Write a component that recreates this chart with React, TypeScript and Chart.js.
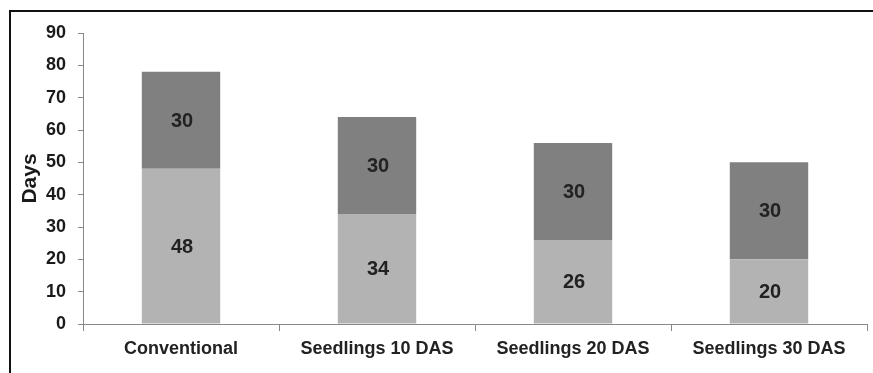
import React, { useEffect, useRef } from "react";
import { Chart, registerables } from "chart.js";

Chart.register(...registerables);

const categories = ["Conventional", "Seedlings 10 DAS", "Seedlings 20 DAS", "Seedlings 30 DAS"];
const lowerValues = [48, 34, 26, 20];
const upperValues = [30, 30, 30, 30];
const yTickMin = 0;
const yTickMax = 90;
const yTickStep = 10;
const yTitle = "Days";

const W = 873;
const H = 373;

const framePlugin = {
  id: "frame",
  afterDraw(chart: any) {
    const ctx = chart.ctx;
    ctx.save();
    ctx.strokeStyle = "#111111";
    ctx.lineWidth = 2;
    ctx.beginPath();
    ctx.moveTo(10, H);
    ctx.lineTo(10, 11);
    ctx.lineTo(W, 11);
    ctx.stroke();
    ctx.restore();
  },
};

const labelPlugin = {
  id: "segLabels",
  afterDatasetsDraw(chart: any) {
    const ctx = chart.ctx;
    ctx.save();
    ctx.font = "bold 20px 'Liberation Sans', Arial, sans-serif";
    ctx.fillStyle = "#222222";
    ctx.textAlign = "center";
    ctx.textBaseline = "middle";
    chart.data.datasets.forEach((ds: any, di: number) => {
      const meta = chart.getDatasetMeta(di);
      meta.data.forEach((el: any, i: number) => {
        const p = el.getProps(["x", "y", "base"], true);
        ctx.fillText(String(ds.data[i]), p.x + 1, (p.y + p.base) / 2 + 1);
      });
    });
    ctx.restore();
  },
};

export default function App() {
  const ref = useRef<HTMLCanvasElement | null>(null);
  useEffect(() => {
    if (!ref.current) return;
    const chart = new Chart(ref.current, {
      type: "bar",
      data: {
        labels: categories,
        datasets: [
          { data: lowerValues, backgroundColor: "#b3b3b3", borderWidth: 0 },
          { data: upperValues, backgroundColor: "#808080", borderWidth: 0 },
        ],
      },
      options: {
        responsive: false,
        animation: false,
        devicePixelRatio: 1,
        layout: { padding: { left: 0, top: 33, right: 6, bottom: 0 } },
        plugins: { legend: { display: false }, tooltip: { enabled: false } },
        datasets: { bar: { categoryPercentage: 1, barPercentage: 0.4 } },
        scales: {
          x: {
            stacked: true,
            grid: { display: true, drawOnChartArea: false, drawTicks: true, tickLength: 7, color: "#888888", offset: true },
            border: { display: true, color: "#888888", width: 1 },
            ticks: {
              color: "#222222",
              font: { family: "'Liberation Sans', Arial, sans-serif", size: 18, weight: "bold" },
              padding: 7,
              maxRotation: 0,
              autoSkip: false,
            },
            afterFit(scale: any) {
              scale.height = 49;
            },
          },
          y: {
            stacked: true,
            min: yTickMin,
            max: yTickMax,
            ticks: {
              stepSize: yTickStep,
              color: "#1a1a1a",
              font: { family: "'Liberation Sans', Arial, sans-serif", size: 18, weight: "bold" },
              padding: 12,
            },
            grid: { display: true, drawOnChartArea: false, drawTicks: true, tickLength: 5, color: "#888888" },
            border: { display: true, color: "#888888", width: 1 },
            title: {
              display: true,
              text: yTitle,
              color: "#1a1a1a",
              font: { family: "'Liberation Sans', Arial, sans-serif", size: 21, weight: "bold" },
              padding: { top: 18, bottom: 0 },
            },
            afterFit(scale: any) {
              scale.width = 83;
            },
          },
        },
      },
      plugins: [labelPlugin, framePlugin],
    });
    return () => chart.destroy();
  }, []);
  return (
    <div style={{ position: "fixed", left: 0, top: 0, width: W, height: H, background: "#ffffff" }}>
      <canvas ref={ref} width={W} height={H} style={{ display: "block", width: W, height: H }} />
    </div>
  );
}
